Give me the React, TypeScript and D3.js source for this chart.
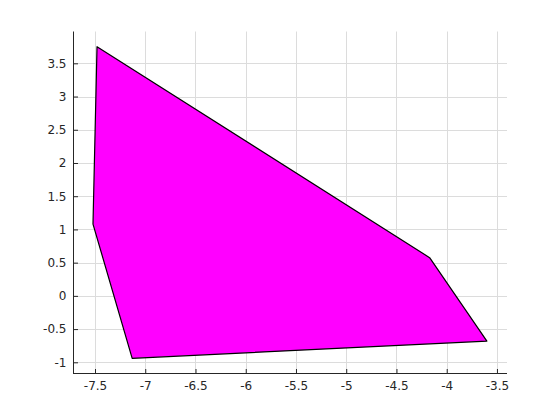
import React, { useEffect, useRef } from 'react';
import * as d3 from 'd3';

// polygon vertices
const xs = [-7.48, -7.52, -7.13, -3.6, -4.17];
const ys = [3.75, 1.08, -0.94, -0.68, 0.575];

const xTicks = [-7.5, -7, -6.5, -6, -5.5, -5, -4.5, -4, -3.5];
const yTicks = [-1, -0.5, 0, 0.5, 1, 1.5, 2, 2.5, 3, 3.5];

const App = () => {
  const svgRef = useRef<SVGSVGElement>(null);

  useEffect(() => {
    const width = 560;
    const height = 420;
    const left = 73, right = 507, top = 31.5, bottom = 373.8;

    const svg = d3.select(svgRef.current);
    svg.selectAll('*').remove();
    svg.attr('width', width).attr('height', height);

    svg.append('rect').attr('width', width).attr('height', height).attr('fill', '#fff');

    const xScale = d3.scaleLinear().domain([-7.719, -3.4]).range([left, right]);
    const yScale = d3.scaleLinear().domain([-1.173, 3.979]).range([bottom, top]);

    // grid
    const grid = svg.append('g').attr('stroke', '#dcdcdc').attr('stroke-width', 1);
    xTicks.forEach(t => {
      const x = Math.round(xScale(t)) + 0.5;
      grid.append('line').attr('x1', x).attr('x2', x).attr('y1', top).attr('y2', bottom);
    });
    yTicks.forEach(t => {
      const y = Math.round(yScale(t)) + 0.5;
      grid.append('line').attr('x1', left).attr('x2', right).attr('y1', y).attr('y2', y);
    });

    // polygon
    const pts: [number, number][] = xs.map((x, i) => [xScale(x), yScale(ys[i])]);
    svg.append('path')
      .attr('d', d3.line()(pts) + 'Z')
      .attr('fill', '#ff00ff')
      .attr('stroke', '#000')
      .attr('stroke-width', 1.2)
      .attr('stroke-linejoin', 'round');

    // axes (MATLAB style, ticks inside)
    const xAxis = d3.axisBottom(xScale).tickValues(xTicks).tickSizeInner(-4.5).tickSizeOuter(0)
      .tickPadding(8).tickFormat(d => String(d));
    const yAxis = d3.axisLeft(yScale).tickValues(yTicks).tickSizeInner(-4.5).tickSizeOuter(0)
      .tickPadding(7).tickFormat(d => String(d));

    const gx = svg.append('g').attr('transform', `translate(0,${Math.round(bottom) - 0.5})`).call(xAxis);
    const gy = svg.append('g').attr('transform', `translate(${left + 0.5},0)`).call(yAxis);

    [gx, gy].forEach(g => {
      g.select('.domain').attr('stroke', '#262626');
      g.selectAll('.tick line').attr('stroke', '#262626');
      g.selectAll('.tick text')
        .attr('fill', '#262626')
        .style('font-family', 'DejaVu Sans, sans-serif')
        .style('font-size', '12px');
    });
    gx.select('.domain').attr('d', `M${left},0H${right}`);
    gy.select('.domain').attr('d', `M0,${bottom}V${top}`);
  }, []);

  return (
    <svg ref={svgRef} style={{ position: 'absolute', left: 0, top: 0 }}></svg>
  );
};

export default App;
